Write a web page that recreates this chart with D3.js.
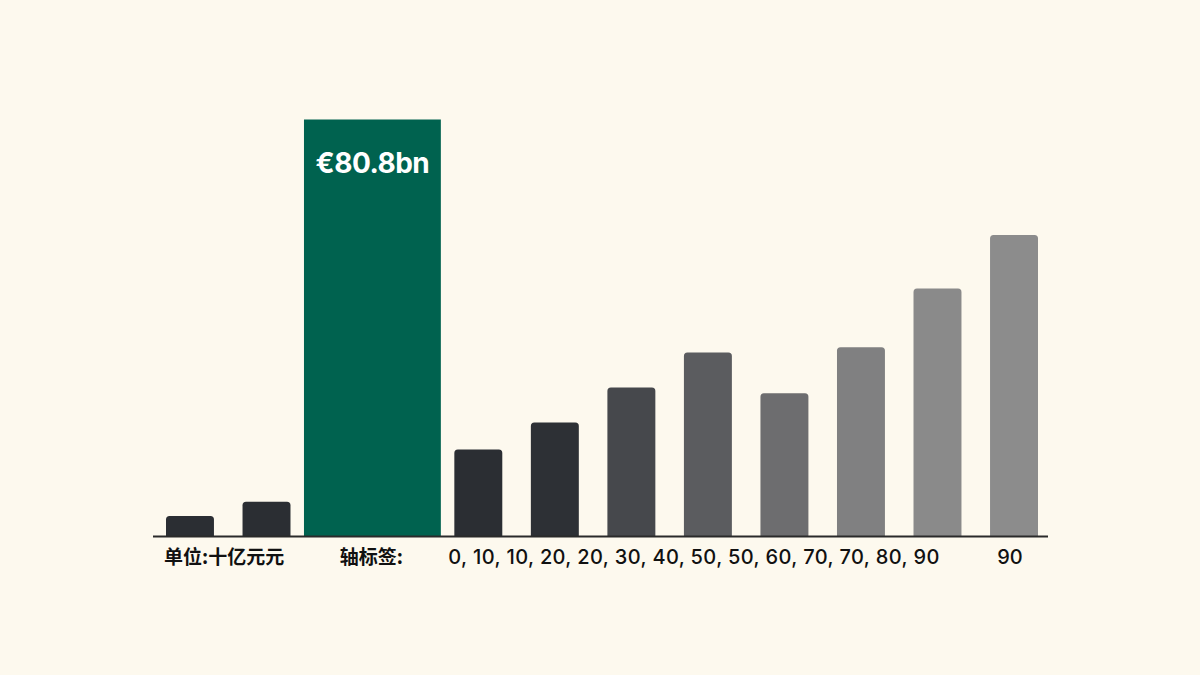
<!DOCTYPE html>
<html>
<head>
<meta charset="utf-8">
<script src="https://cdn.jsdelivr.net/npm/d3@7/dist/d3.min.js"></script>
<style>
  html, body { margin: 0; padding: 0; background: #fdf9ee; }
  svg { display: block; }
</style>
</head>
<body>
<svg id="chart" width="1200" height="675"></svg>
<script>
// ---- data ----
const categories = ["b1", "b2", "highlight", "b3", "b4", "b5", "b6", "b7", "b8", "b9", "b10"];
const values = [3.9, 6.65, 80.8, 16.8, 22.0, 28.8, 35.6, 27.7, 36.6, 48.0, 58.4];
const barColors = ["#2b2e33", "#2b2e33", "#00624f", "#2b2e33", "#2d3035", "#46484c", "#5b5c5f", "#6d6d6f", "#808081", "#8a8a8a", "#8c8c8c"];
const highlightLabel = "€80.8bn";
const unitLabel = "单位:十亿元元";
const axisLabelTitle = "轴标签:";
const tickLabels = ["0", "10", "10", "20", "20", "30", "40", "50", "50", "60", "70", "70", "80", "90"];
const lastTickLabel = "90";

// ---- layout ----
const svg = d3.select("#chart");
const W = 1200, H = 675;
svg.append("rect").attr("width", W).attr("height", H).attr("fill", "#fdf9ee");

const baseline = 536;
const plotLeft = 166, plotRight = 1038;

const normalW = 48, normalGap = 28.6, hlW = 137, hlGap = 13.5;
const layout = [];
let cursor = 0;
categories.forEach((c, i) => {
  const isHL = c === "highlight";
  const prevHL = i > 0 && categories[i - 1] === "highlight";
  let gap = i === 0 ? 0 : (isHL || prevHL ? hlGap : normalGap);
  cursor += gap;
  const w = isHL ? hlW : normalW;
  layout.push({ cat: c, start: cursor, width: w });
  cursor += w;
});
const x = d3.scaleLinear().domain([0, cursor]).range([plotLeft, plotRight]);
const y = d3.scaleLinear().domain([0, 80.8]).range([baseline, 119.5]);

const data = categories.map((c, i) => ({
  cat: c, value: values[i], color: barColors[i],
  x0: x(layout[i].start), x1: x(layout[i].start + layout[i].width)
}));

function roundedTopPath(x0, x1, yTop, yBot, r) {
  r = Math.min(r, (x1 - x0) / 2, (yBot - yTop));
  return `M${x0},${yBot}V${yTop + r}Q${x0},${yTop} ${x0 + r},${yTop}H${x1 - r}Q${x1},${yTop} ${x1},${yTop + r}V${yBot}Z`;
}
svg.append("g").selectAll("path").data(data).join("path")
  .attr("d", d => roundedTopPath(d.x0, d.x1, y(d.value), y(0), d.cat === "highlight" ? 0 : 3.5))
  .attr("fill", d => d.color);

svg.append("line")
  .attr("x1", 153).attr("x2", 1048)
  .attr("y1", baseline + 0.5).attr("y2", baseline + 0.5)
  .attr("stroke", "#2a2a2a").attr("stroke-width", 2);

const hl = data.find(d => d.cat === "highlight");
svg.append("text")
  .attr("x", (hl.x0 + hl.x1) / 2)
  .attr("y", y(hl.value) + 53)
  .attr("text-anchor", "middle")
  .attr("fill", "#ffffff")
  .attr("font-family", "Inter, 'Liberation Sans', Arial, sans-serif")
  .attr("font-weight", 700)
  .attr("font-size", 28)
  .attr("letter-spacing", -0.5)
  .text(highlightLabel);

const labelY = 564;
const g = svg.append("g")
  .attr("font-size", 19)
  .attr("font-weight", 600)
  .attr("fill", "#111111");

g.append("text").attr("x", data[0].x0 - 2).attr("y", labelY)
  .attr("font-family", "'Noto Sans CJK SC', sans-serif")
  .text(unitLabel);
g.append("text").attr("x", (hl.x0 + hl.x1) / 2 - 1).attr("y", labelY)
  .attr("text-anchor", "middle")
  .attr("font-family", "'Noto Sans CJK SC', sans-serif")
  .text(axisLabelTitle);
g.append("text").attr("x", data[3].x0 - 6).attr("y", labelY)
  .attr("font-family", "Inter, 'Liberation Sans', sans-serif")
  .attr("font-size", 20).attr("font-weight", 500)
  .attr("textLength", 491).attr("lengthAdjust", "spacing")
  .text(tickLabels.join(", "));
const last = data[data.length - 1];
g.append("text").attr("x", (last.x0 + last.x1) / 2 - 4).attr("y", labelY)
  .attr("text-anchor", "middle")
  .attr("font-family", "Inter, 'Liberation Sans', sans-serif")
  .attr("font-size", 20).attr("font-weight", 500)
  .text(lastTickLabel);
</script>
</body>
</html>
